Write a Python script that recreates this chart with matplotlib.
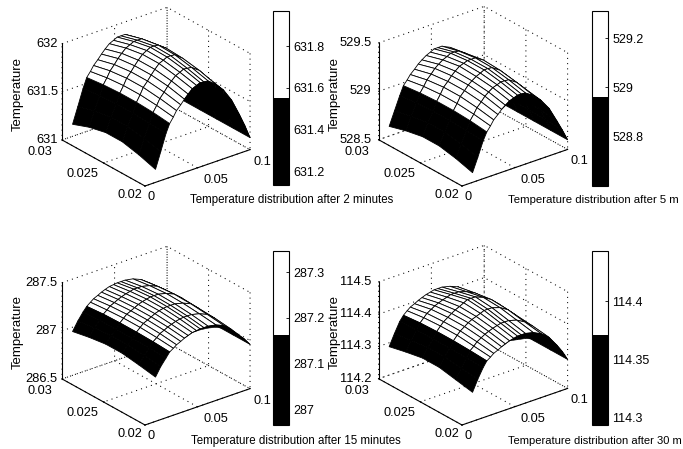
import numpy as np
import matplotlib
matplotlib.use("Agg")
import matplotlib.pyplot as plt
from matplotlib.colors import ListedColormap, BoundaryNorm
from matplotlib.cm import ScalarMappable
from mpl_toolkits.mplot3d import proj3d

plt.rcParams['font.family'] = ['Liberation Sans', 'DejaVu Sans']
plt.rcParams['font.size'] = 9

W, H = 683, 449

x_vals = [0.01, 0.015, 0.02, 0.0235, 0.027, 0.03, 0.034, 0.0375, 0.041, 0.045, 0.049, 0.0525, 0.056, 0.06,
          0.0675, 0.075, 0.0825, 0.09, 0.095, 0.1]
y_vals = [0.02, 0.022, 0.024, 0.026, 0.028, 0.03]
skirt_x = [0.0375, 0.045, 0.0525, 0.06, 0.0675, 0.075, 0.0825, 0.09, 0.095, 0.1]

# temperature above the lower z limit of each panel
z1_rise = [[.135,.30,.47,.56,.615,.67,.715,.76,.80,.84,.86,.875,.87,.865,.80,.71,.58,.40,.27,.125],
           [.19,.34,.48,.58,.64,.70,.75,.80,.84,.88,.90,.92,.915,.91,.85,.75,.61,.42,.28,.125],
           [.23,.37,.49,.59,.655,.72,.77,.82,.865,.91,.93,.95,.95,.945,.88,.78,.63,.43,.285,.125],
           [.23,.37,.49,.59,.655,.72,.77,.82,.865,.91,.935,.955,.955,.95,.89,.79,.64,.44,.29,.125],
           [.19,.34,.48,.58,.64,.70,.75,.80,.84,.88,.90,.92,.92,.92,.86,.77,.62,.43,.285,.125],
           [.125,.29,.46,.56,.61,.66,.705,.75,.79,.83,.85,.87,.87,.87,.82,.73,.60,.42,.28,.125]]
z2_rise = [[.10,.24,.39,.47,.52,.57,.61,.65,.68,.71,.725,.74,.74,.735,.68,.60,.49,.33,.22,.10],
           [.15,.28,.40,.49,.545,.60,.645,.69,.72,.75,.765,.78,.78,.775,.72,.63,.51,.35,.23,.10],
           [.185,.31,.41,.50,.56,.62,.665,.71,.74,.77,.79,.81,.81,.805,.75,.66,.53,.36,.235,.10],
           [.185,.31,.41,.50,.56,.62,.665,.71,.745,.78,.795,.81,.81,.81,.76,.67,.54,.37,.24,.10],
           [.15,.28,.40,.49,.545,.60,.645,.69,.72,.75,.77,.79,.79,.785,.73,.65,.52,.36,.235,.10],
           [.10,.24,.38,.47,.515,.56,.60,.64,.67,.70,.72,.74,.74,.74,.70,.62,.51,.35,.23,.10]]
z3_rise = [[.46,.55,.62,.67,.695,.72,.74,.76,.775,.79,.795,.80,.80,.80,.785,.75,.68,.59,.53,.46],
           [.49,.57,.63,.68,.71,.74,.76,.78,.795,.81,.82,.825,.825,.825,.805,.77,.70,.60,.535,.46],
           [.515,.585,.63,.685,.72,.75,.77,.79,.81,.825,.835,.84,.84,.84,.82,.785,.71,.61,.54,.46],
           [.515,.585,.63,.685,.72,.75,.77,.79,.81,.825,.835,.845,.845,.845,.825,.79,.72,.615,.54,.46],
           [.49,.57,.63,.68,.71,.74,.76,.78,.795,.81,.82,.83,.83,.83,.81,.775,.71,.61,.535,.46],
           [.455,.545,.62,.665,.695,.72,.74,.76,.775,.79,.795,.80,.80,.80,.785,.75,.69,.60,.53,.46]]
z4_rise = [[.09,.125,.155,.172,.18,.188,.194,.20,.205,.21,.213,.216,.216,.216,.21,.198,.178,.145,.12,.09],
           [.10,.13,.157,.175,.185,.195,.203,.21,.215,.22,.224,.227,.227,.227,.22,.206,.185,.15,.122,.09],
           [.11,.137,.158,.177,.19,.20,.209,.217,.223,.228,.233,.238,.238,.238,.23,.215,.19,.155,.125,.09],
           [.11,.137,.158,.177,.19,.20,.209,.217,.224,.23,.237,.243,.243,.243,.233,.218,.195,.158,.125,.09],
           [.10,.13,.157,.175,.187,.197,.205,.212,.217,.222,.226,.23,.23,.23,.222,.21,.19,.155,.124,.09],
           [.088,.123,.155,.17,.18,.188,.194,.20,.205,.21,.213,.216,.216,.216,.21,.20,.18,.15,.12,.09]]

skirt1 = [631.76,631.72,631.67,631.60,631.52,631.44,631.38,631.30,631.22,631.125]
skirt2 = [529.15,529.20,529.16,529.12,529.08,529.03,528.92,528.79,528.70,528.60]
skirt3 = [287.26,287.29,287.29,287.28,287.26,287.22,287.15,287.07,287.02,286.96]
skirt4 = [114.40,114.41,114.405,114.40,114.39,114.378,114.36,114.335,114.315,114.29]

titles = ["Temperature distribution after 2 minutes", "Temperature distribution after 5 m",
          "Temperature distribution after 15 minutes", "Temperature distribution after 30 m"]
title_sizes = [8.3, 8.2, 8.3, 8.0]
z_ticks = [[631, 631.5, 632], [528.5, 529, 529.5], [286.5, 287, 287.5], [114.2, 114.3, 114.4, 114.5]]
z_labels = [["631", "631.5", "632"], ["528.5", "529", "529.5"], ["286.5", "287", "287.5"],
            ["114.2", "114.3", "114.4", "114.5"]]
cb_ticks = [[631.2, 631.4, 631.6, 631.8], [528.8, 529.0, 529.2], [287.0, 287.1, 287.2, 287.3], [114.3, 114.35, 114.4]]
cb_labels = [["631.2", "631.4", "631.6", "631.8"], ["528.8", "529", "529.2"], ["287", "287.1", "287.2", "287.3"],
             ["114.3", "114.35", "114.4"]]
cb_bounds = [[631.133, 631.55, 631.968], [528.60, 528.963, 529.31], [286.965, 287.163, 287.346], [114.294, 114.371, 114.443]]
x_ticks = [0, 0.05, 0.1]
x_labels = ["0", "0.05", "0.1"]
y_ticks = [0.02, 0.025, 0.03]
y_labels = ["0.02", "0.025", "0.03"]

# pixel offsets of the tick labels from their ticks
x_off = [(6, 11), (18, 12), (12, 12)]
y_off = [(-15, 9), (-21, 11), (-22, 12)]

# pixel layout (image coords)
layout = [dict(L=(62, 140), F=(145, 186), R=(250, 150), cb=(273, 11, 289, 185), cap=(190, 200), zl=(18, 94), gap=4),
          dict(L=(381, 141), F=(462, 186), R=(570, 151), cb=(592, 11, 608, 186), cap=(508, 200), zl=(335, 94), gap=7),
          dict(L=(62, 381), F=(145, 425), R=(250, 392), cb=(273, 251, 289, 425), cap=(191, 441), zl=(18, 332), gap=5),
          dict(L=(381, 381), F=(462, 425), R=(570, 392), cb=(592, 251, 608, 425), cap=(508, 441), zl=(335, 332), gap=7)]
z_data = [z1_rise, z2_rise, z3_rise, z4_rise]
skirts = [skirt1, skirt2, skirt3, skirt4]

cmap2 = ListedColormap(['black', 'white'])
fig = plt.figure(figsize=(W / 100, H / 100), dpi=100, facecolor='white')
DOT = (0, (1, 4))


def corner_px(ax, x, y, z):
    vx, vy, _ = proj3d.proj_transform(x, y, z, ax.get_proj())
    return ax.transData.transform((vx, vy))


def label_at(px, off, s, **kw):
    fig.text((px[0] + off[0]) / W, (px[1] - off[1]) / H, s, va='center', **kw)


for i in range(4):
    lay = layout[i]
    ax = fig.add_axes([0.1, 0.1, 0.4, 0.4 * W / H], projection='3d', computed_zorder=False, proj_type='ortho')
    ax.patch.set_alpha(0)
    ax.view_init(elev=26, azim=-128.3)
    ax.set_box_aspect((1, 1, 0.8))
    zlo, zhi = z_ticks[i][0], z_ticks[i][-1]
    ax.set_xlim(0, 0.1, view_margin=0)
    ax.set_ylim(0.02, 0.03, view_margin=0)
    ax.set_zlim(zlo, zhi, view_margin=0)

    X, Y = np.meshgrid(x_vals, y_vals)
    Z = zlo + np.array(z_data[i])
    norm = BoundaryNorm(cb_bounds[i], 2)
    ax.plot_surface(X, Y, Z, cmap=cmap2, norm=norm, edgecolor='black', linewidth=0.6,
                    shade=False, rstride=1, cstride=1, antialiased=True, zorder=2)
    upper = Z[0, [x_vals.index(v) for v in skirt_x]]
    SX = np.array([skirt_x, skirt_x])
    SY = np.full(SX.shape, y_vals[0])
    SZ = np.array([skirts[i], upper])
    ax.plot_surface(SX, SY, SZ, color='black', edgecolor='black', linewidth=0.4, shade=False,
                    rstride=1, cstride=1, zorder=3)

    ax.set_xticks(x_ticks, [''] * 3)
    ax.set_yticks(y_ticks, [''] * 3)
    ax.set_zticks(z_ticks[i], [''] * len(z_ticks[i]))
    for a in (ax.xaxis, ax.yaxis, ax.zaxis):
        a.set_pane_color((1, 1, 1, 0))
        a.pane.set_edgecolor('black')
        a.pane.set_linestyle(DOT)
        a.pane.set_linewidth(0.75)
        a._axinfo['grid'].update(color='black', linestyle=DOT, linewidth=0.75)
        a._axinfo['tick'].update(inward_factor=0.0, outward_factor=0.08, linewidth={True: 0.6, False: 0.6})
        a._axinfo['axisline'].update(linewidth=0.9, color='black')

    # fit the square axes box so that the drawn corners land on the reference pixels
    for _ in range(2):
        fig.canvas.draw()
        L = corner_px(ax, 0, 0.03, zlo)
        R = corner_px(ax, 0.1, 0.02, zlo)
        F = corner_px(ax, 0, 0.02, zlo)
        pos = ax.get_position()
        scale = (lay['R'][0] - lay['L'][0]) / (R[0] - L[0])
        side = pos.width * W * scale
        tx, ty = lay['F'][0], H - lay['F'][1]
        newL = pos.x0 * W + (F[0] - pos.x0 * W) * scale
        newB = pos.y0 * H + (F[1] - pos.y0 * H) * scale
        ax.set_position([(pos.x0 * W + tx - newL) / W, (pos.y0 * H + ty - newB) / H, side / W, side / H])
    fig.canvas.draw()

    for v, s, off in zip(x_ticks, x_labels, x_off):
        label_at(corner_px(ax, v, 0.02, zlo), off, s, ha='center', fontsize=9.2)
    for v, s, off in zip(y_ticks, y_labels, y_off):
        label_at(corner_px(ax, 0, v, zlo), off, s, ha='center', fontsize=9.2)
    for v, s in zip(z_ticks[i], z_labels[i]):
        label_at(corner_px(ax, 0, 0.03, v), (-lay['gap'], 0), s, ha='right', fontsize=9.3)

    x0, y0, x1, y1 = lay['cb']
    cax = fig.add_axes([x0 / W, 1 - y1 / H, (x1 - x0) / W, (y1 - y0) / H])
    cb = fig.colorbar(ScalarMappable(norm=norm, cmap=cmap2), cax=cax, spacing='proportional', ticks=cb_ticks[i])
    cb.set_ticklabels(cb_labels[i])
    cb.ax.tick_params(length=2, width=0.6, labelsize=9, pad=3, direction='in', color='black')
    cb.ax.minorticks_off()
    cb.outline.set_linewidth(0.8)

    fig.text(lay['zl'][0] / W, 1 - lay['zl'][1] / H, "Temperature", rotation=90, ha='center', va='center', fontsize=9.5)
    fig.text(lay['cap'][0] / W, 1 - lay['cap'][1] / H, titles[i], ha='left', va='center', fontsize=title_sizes[i])

fig.savefig('out.png', dpi=100)
